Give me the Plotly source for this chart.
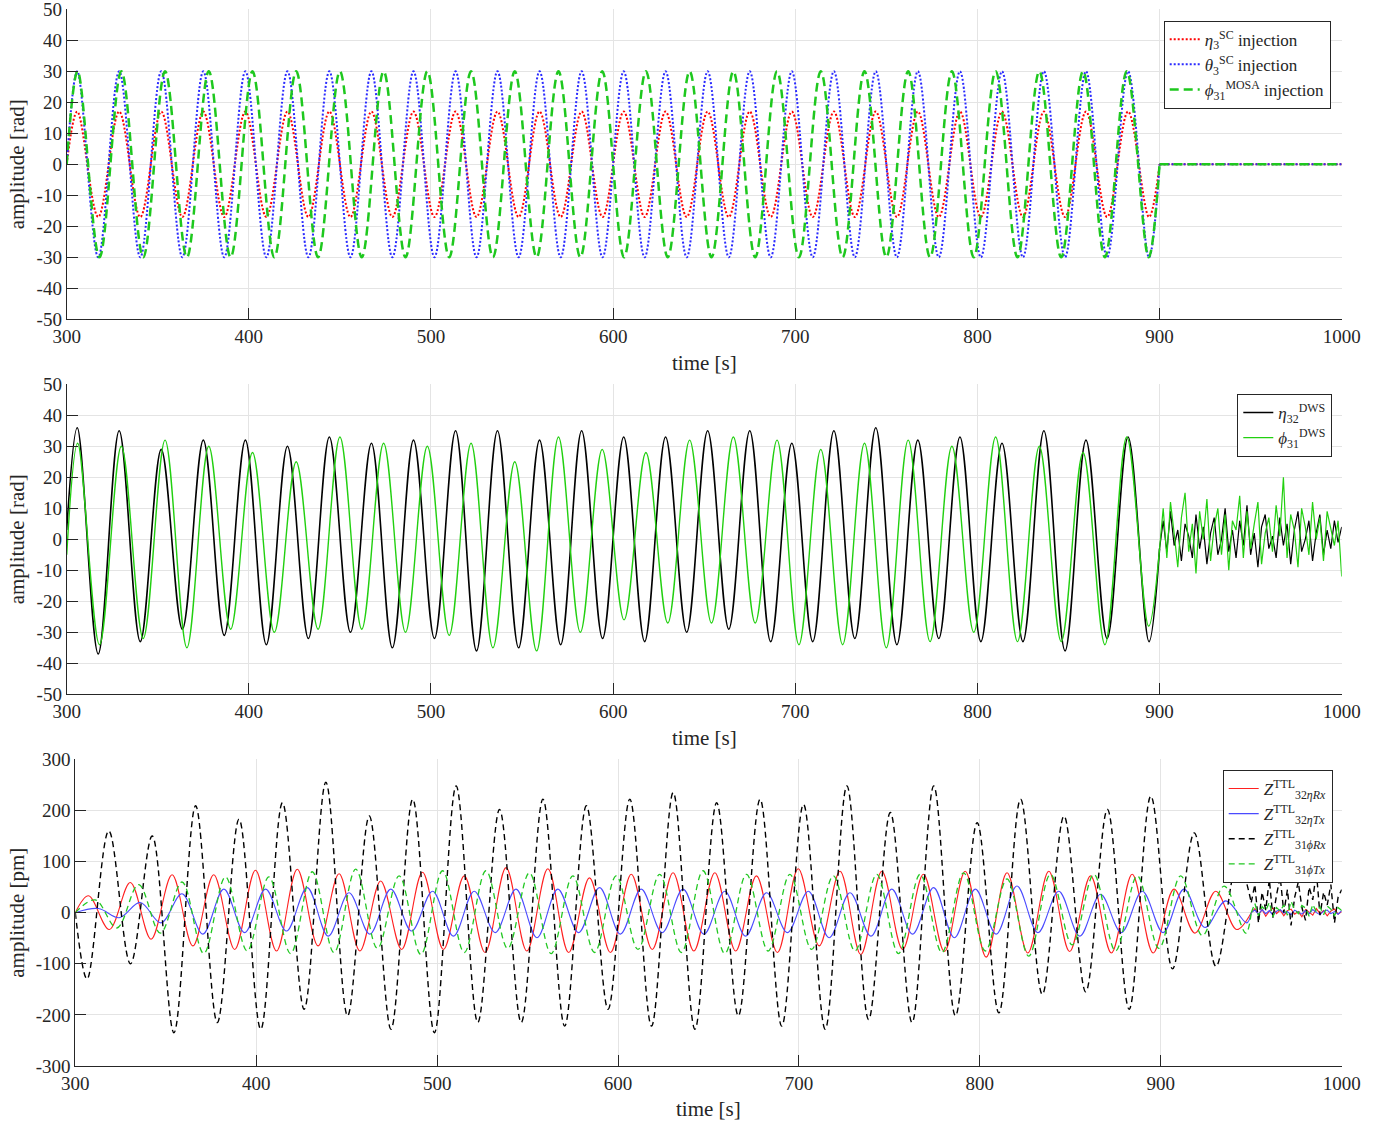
import plotly.graph_objects as go

# ---------------- Panel 1 : injections ----------------
t_eta = [300.0, 305.8, 317.3, 328.8, 340.4, 351.9, 363.5, 375.0, 386.5, 398.1,
         409.6, 421.2, 432.7, 444.2, 455.8, 467.3, 478.8, 490.4, 501.9, 513.5,
         525.0, 536.5, 548.1, 559.6, 571.2, 582.7, 594.2, 605.8, 617.3, 628.8,
         640.4, 651.9, 663.5, 675.0, 686.5, 698.1, 709.6, 721.2, 732.7, 744.2,
         755.8, 767.3, 778.8, 790.4, 801.9, 813.5, 825.0, 836.5, 848.1, 859.6,
         871.2, 882.7, 894.2, 900.0]
eta3_sc = [0,
           17, -17, 17, -17, 17, -17, 17, -17, 17, -17,
           17, -17, 17, -17, 17, -17, 17, -17, 17, -17,
           17, -17, 17, -17, 17, -17, 17, -17, 17, -17,
           17, -17, 17, -17, 17, -17, 17, -17, 17, -17,
           17, -17, 17, -17, 17, -17, 17, -17, 17, -17,
           17, -17,
           0]
theta3_sc = [0,
             30, -30, 30, -30, 30, -30, 30, -30, 30, -30,
             30, -30, 30, -30, 30, -30, 30, -30, 30, -30,
             30, -30, 30, -30, 30, -30, 30, -30, 30, -30,
             30, -30, 30, -30, 30, -30, 30, -30, 30, -30,
             30, -30, 30, -30, 30, -30, 30, -30, 30, -30,
             30, -30,
             0]
t_phi = [300, 306, 318, 330, 342, 354, 366, 378, 390, 402,
         414, 426, 438, 450, 462, 474, 486, 498, 510, 522,
         534, 546, 558, 570, 582, 594, 606, 618, 630, 642,
         654, 666, 678, 690, 702, 714, 726, 738, 750, 762,
         774, 786, 798, 810, 822, 834, 846, 858, 870, 882,
         894, 900]
phi31_mosa = [0,
              30, -30, 30, -30, 30, -30, 30, -30, 30, -30,
              30, -30, 30, -30, 30, -30, 30, -30, 30, -30,
              30, -30, 30, -30, 30, -30, 30, -30, 30, -30,
              30, -30, 30, -30, 30, -30, 30, -30, 30, -30,
              30, -30, 30, -30, 30, -30, 30, -30, 30, -30,
              0]
t_off = [900, 1000]
off_val = [0, 0]

# ---------------- Panel 2 : DWS ----------------
eta32_dws = [3,
             36, -37, 35, -33, 29, -29, 32, -31, 32, -34,
             30, -32, 33, -30, 31, -35, 32, -32, 35, -36,
             35, -35, 32, -34, 35, -32, 33, -33, 33, -30,
             35, -29, 35, -33, 31, -33, 35, -32, 36, -34,
             32, -32, 33, -33, 31, -33, 35, -36, 32, -32,
             33, -33,
             -3]
phi31_dws = [-5,
             31, -34, 30, -32, 32, -35, 30, -29, 28, -30,
             25, -29, 33, -29, 31, -30, 30, -31, 31, -35,
             25, -36, 33, -30, 29, -26, 28, -27, 32, -27,
             33, -27, 32, -34, 29, -34, 31, -35, 32, -33,
             30, -30, 33, -33, 30, -33, 28, -34, 33, -28,
             -3]
t_noise2 = [900, 902, 904, 906, 908, 910, 912, 914, 916, 918,
            920, 922, 924, 926, 928, 930, 932, 934, 936, 938,
            940, 942, 944, 946, 948, 950, 952, 954, 956, 958,
            960, 962, 964, 966, 968, 970, 972, 974, 976, 978,
            980, 982, 984, 986, 988, 990, 992, 994, 996, 998,
            1000]
eta32_noise = [-3, 6, -4, 9, -2, 3, -7, 5, 1, -6,
               8, -3, 4, -8, 2, 7, -5, 0, 10, -4,
               3, -6, 6, -2, 11, -5, 2, -9, 4, 8,
               -3, 1, -6, 7, -2, 5, -8, 3, 9, -4,
               0, 6, -7, 2, 8, -5, 3, -3, 6, -1,
               4]
phi31_noise = [-3, 10, -6, 12, 2, -9, 7, 15, -4, 5,
               -11, 9, 0, 13, -7, 4, 10, -5, 8, -10,
               6, 3, 14, -6, 9, -3, 5, 12, -8, 2,
               7, -4, 11, 1, 20, -6, 8, 3, -9, 10,
               4, -5, 12, 0, 7, -7, 9, 3, -2, 6,
               -12]

# ---------------- Panel 3 : TTL ----------------
t_z32rx = [300.0,
           307.3, 318.8, 330.4, 341.9, 353.5, 365.0, 376.5, 388.1, 399.6, 411.2,
           422.7, 434.2, 445.8, 457.3, 468.8, 480.4, 491.9, 503.5, 515.0, 526.5,
           538.1, 549.6, 561.2, 572.7, 584.2, 595.8, 607.3, 618.9, 630.4, 641.9,
           653.5, 665.0, 676.5, 688.1, 699.6, 711.2, 722.7, 734.2, 745.8, 757.3,
           768.8, 780.4, 791.9, 803.5, 815.0, 826.5, 838.1, 849.6, 861.2, 872.7,
           884.2, 895.8, 907.3, 918.9, 930.4, 941.9,
           950.0]
z32rx = [0,
         33, -33, 59, -52, 74, -65, 74, -72, 83, -75,
         85, -65, 76, -75, 62, -72, 79, -72, 72, -78,
         88, -75, 86, -78, 68, -78, 75, -72, 78, -75,
         78, -75, 72, -78, 86, -65, 81, -82, 81, -72,
         75, -76, 81, -87, 78, -79, 81, -76, 72, -79,
         75, -79, 46, -40, 42, -33,
         0]
t_z32tx = [300.0,
           312.8, 324.3, 335.9, 347.4, 359.0, 370.5, 382.1, 393.6, 405.2, 416.7,
           428.2, 439.8, 451.3, 462.8, 474.4, 485.9, 497.5, 509.0, 520.5, 532.1,
           543.6, 555.2, 566.7, 578.2, 589.8, 601.3, 612.8, 624.4, 635.9, 647.5,
           659.0, 670.5, 682.1, 693.6, 705.2, 716.7, 728.2, 739.8, 751.3, 762.8,
           774.4, 785.9, 797.5, 809.0, 820.5, 832.1, 843.6, 855.2, 866.7, 878.2,
           889.8, 901.3, 912.8, 924.4, 935.9, 947.5,
           950.0]
z32tx = [0,
         8, -10, 20, -20, 37, -42, 46, -39, 46, -36,
         49, -46, 39, -42, 46, -36, 42, -46, 42, -39,
         46, -49, 46, -39, 49, -42, 46, -39, 46, -42,
         42, -46, 39, -39, 42, -49, 39, -46, 46, -42,
         49, -49, 46, -42, 52, -39, 42, -46, 36, -39,
         42, -39, 46, -29, 23, -20,
         0]
t_z31rx = [300.0,
           306.5, 318.5, 330.5, 342.5, 354.5, 366.5, 378.5, 390.5, 402.5, 414.5,
           426.5, 438.5, 450.5, 462.5, 474.5, 486.5, 498.5, 510.5, 522.5, 534.5,
           546.5, 558.5, 570.5, 582.5, 594.5, 606.5, 618.5, 630.5, 642.5, 654.5,
           666.5, 678.5, 690.5, 702.5, 714.5, 726.5, 738.5, 750.5, 762.5, 774.5,
           786.5, 798.5, 810.5, 822.5, 834.5, 846.5, 858.5, 870.5, 882.5, 894.5,
           906.5, 918.5, 930.5, 942.5,
           950.0]
z31rx = [0,
         -130, 160, -100, 150, -235, 209, -215, 183, -228, 215,
         -189, 255, -202, 189, -228, 222, -235, 248, -215, 202,
         -215, 222, -222, 209, -189, 222, -222, 235, -228, 215,
         -202, 222, -222, 212, -228, 248, -209, 196, -215, 248,
         -202, 176, -196, 222, -160, 189, -155, 202, -189, 228,
         -110, 156, -105, 100,
         20]
t_z31tx = [300.0,
           311, 323, 335, 347, 359, 371, 383, 395, 407, 419,
           431, 443, 455, 467, 479, 491, 503, 515, 527, 539,
           551, 563, 575, 587, 599, 611, 623, 635, 647, 659,
           671, 683, 695, 707, 719, 731, 743, 755, 767, 779,
           791, 803, 815, 827, 839, 851, 863, 875, 887, 899,
           911, 923, 935, 947,
           950.0]
z31tx = [0,
         25, -30, 55, -40, 60, -80, 70, -75, 70, -80,
         80, -78, 85, -70, 72, -82, 82, -78, 82, -70,
         78, -80, 72, -78, 72, -72, 75, -78, 82, -80,
         75, -75, 75, -72, 72, -75, 75, -80, 75, -78,
         78, -75, 66, -85, 75, -63, 75, -75, 72, -70,
         72, -45, 52, -40,
         0]
t_noise3 = [950, 952, 954, 956, 958, 960, 962, 964, 966, 968,
            970, 972, 974, 976, 978, 980, 982, 984, 986, 988,
            990, 992, 994, 996, 998, 1000]
z32rx_noise = [0, 8, -4, 6, -7, 3, 9, -2, 5, -6, 4, 7, -3, 2, -8, 6, 1, -5, 8, -2, 4, -6, 3, 7, -3, 2]
z32tx_noise = [0, 5, -3, 6, -2, 4, -5, 3, 6, -1, 2, -4, 5, 1, -3, 4, -2, 6, 0, -4, 3, 5, -2, 2, -3, 4]
z31rx_noise = [20, 55, -20, 40, 5, 65, -10, 35, 70, 0, 45, -25, 30, 60, 10, -15, 50, 25, 80, -5, 40, 15, 55, -20, 30, 45]
z31tx_noise = [0, 18, -6, 12, 4, 20, -8, 10, 3, 15, -5, 22, 6, -2, 14, 9, -7, 16, 2, 11, -4, 13, 7, -6, 10, 4]

x_ticks = [300, 400, 500, 600, 700, 800, 900, 1000]
x_ticktext = ['300', '400', '500', '600', '700', '800', '900', '1000']
y_ticks_rad = [-50, -40, -30, -20, -10, 0, 10, 20, 30, 40, 50]
y_ticktext_rad = ['-50', '-40', '-30', '-20', '-10', '0', '10', '20', '30', '40', '50']
y_ticks_pm = [-300, -200, -100, 0, 100, 200, 300]
y_ticktext_pm = ['-300', '-200', '-100', '0', '100', '200', '300']

FONT = 'Liberation Serif'
AXC = '#262626'
W, H = 1399, 1127

fig = go.Figure()


def add(x, y, name, color, width, dash, xa, ya, legend, shape='spline', showlegend=True, group=None):
    fig.add_trace(go.Scatter(
        x=x, y=y, name=name, mode='lines',
        line=dict(color=color, width=width, dash=dash, shape=shape),
        xaxis=xa, yaxis=ya, legend=legend, showlegend=showlegend,
        legendgroup=group or name, hoverinfo='skip'))


# Panel 1
add(t_eta, eta3_sc, '<i>η</i><sub>3</sub><sup>SC</sup> injection', '#ff0000', 2, '2px,2px', 'x', 'y', 'legend', group='a')
add(t_eta, theta3_sc, '<i>θ</i><sub>3</sub><sup>SC</sup> injection', '#2a2aff', 2, '2px,2px', 'x', 'y', 'legend', group='b')
add(t_phi, phi31_mosa, '<i>ϕ</i><sub>31</sub><sup>MOSA</sup> injection', '#1ec81e', 2.5, '9px,5px', 'x', 'y', 'legend', group='c')
add(t_off, off_val, 'a0', '#ff0000', 2, '2px,2px', 'x', 'y', 'legend', 'linear', False, 'a')
add(t_off, off_val, 'b0', '#2a2aff', 2, '2px,2px', 'x', 'y', 'legend', 'linear', False, 'b')
add(t_off, off_val, 'c0', '#1ec81e', 2.5, '9px,5px', 'x', 'y', 'legend', 'linear', False, 'c')

# Panel 2
add(t_eta[:-1] + [900.0], eta32_dws, '<i>η</i><sub>32</sub><sup>DWS</sup>', '#000000', 1.6, 'solid', 'x2', 'y2', 'legend2', group='d')
add(t_phi, phi31_dws, '<i>ϕ</i><sub>31</sub><sup>DWS</sup>', '#22d010', 1.4, 'solid', 'x2', 'y2', 'legend2', group='e')
add(t_noise2, eta32_noise, 'd0', '#000000', 1.2, 'solid', 'x2', 'y2', 'legend2', 'linear', False, 'd')
add(t_noise2, phi31_noise, 'e0', '#22d010', 1.2, 'solid', 'x2', 'y2', 'legend2', 'linear', False, 'e')

# Panel 3
add(t_z32rx, z32rx, '<i>Z</i><sup>TTL</sup><sub>32<i>ηRx</i></sub>', '#ff2020', 1.1, 'solid', 'x3', 'y3', 'legend3', group='f')
add(t_z32tx, z32tx, '<i>Z</i><sup>TTL</sup><sub>32<i>ηTx</i></sub>', '#4a4aff', 1.1, 'solid', 'x3', 'y3', 'legend3', group='g')
add(t_z31rx, z31rx, '<i>Z</i><sup>TTL</sup><sub>31<i>ϕRx</i></sub>', '#000000', 1.4, '6px,4px', 'x3', 'y3', 'legend3', group='h')
add(t_z31tx, z31tx, '<i>Z</i><sup>TTL</sup><sub>31<i>ϕTx</i></sub>', '#22c822', 1.3, '6px,4px', 'x3', 'y3', 'legend3', group='i')
add(t_noise3, z32rx_noise, 'f0', '#ff2020', 1.1, 'solid', 'x3', 'y3', 'legend3', 'linear', False, 'f')
add(t_noise3, z32tx_noise, 'g0', '#4a4aff', 1.1, 'solid', 'x3', 'y3', 'legend3', 'linear', False, 'g')
add(t_noise3, z31rx_noise, 'h0', '#000000', 1.4, '6px,4px', 'x3', 'y3', 'legend3', 'linear', False, 'h')
add(t_noise3, z31tx_noise, 'i0', '#22c822', 1.3, '6px,4px', 'x3', 'y3', 'legend3', 'linear', False, 'i')


def px_x(p):
    return p / W


def px_y(p):
    return 1 - p / H


common = dict(showline=True, linecolor=AXC, linewidth=1, mirror=False, automargin=False,
              ticks='inside', ticklen=11, tickcolor=AXC, tickwidth=1,
              ticklabeloverflow='allow',
              showgrid=True, gridcolor='#e4e4e4', gridwidth=1, zeroline=False,
              tickfont=dict(family=FONT, size=19, color=AXC))

xd12 = [px_x(66.7), px_x(1341.7)]
xd3 = [px_x(75.3), px_x(1341.7)]
yd1 = [px_y(319.3), px_y(9.3)]
yd2 = [px_y(694.3), px_y(384.3)]
yd3 = [px_y(1066.0), px_y(759.3)]

xcommon = dict(common, range=[300, 1000], tickvals=x_ticks, ticktext=x_ticktext)
fig.update_layout(
    width=W, height=H,
    margin=dict(l=0, r=0, t=0, b=0, autoexpand=False),
    paper_bgcolor='white', plot_bgcolor='white',
    font=dict(family=FONT, color=AXC),
    xaxis=dict(xcommon, domain=xd12, anchor='y'),
    yaxis=dict(common, domain=yd1, anchor='x', range=[-50, 50], tickvals=y_ticks_rad, ticktext=y_ticktext_rad),
    xaxis2=dict(xcommon, domain=xd12, anchor='y2'),
    yaxis2=dict(common, domain=yd2, anchor='x2', range=[-50, 50], tickvals=y_ticks_rad, ticktext=y_ticktext_rad),
    xaxis3=dict(xcommon, domain=xd3, anchor='y3'),
    yaxis3=dict(common, domain=yd3, anchor='x3', range=[-300, 300], tickvals=y_ticks_pm, ticktext=y_ticktext_pm),
    showlegend=True,
)

leg_common = dict(xanchor='right', yanchor='top', bgcolor='white', bordercolor=AXC, borderwidth=1,
                  itemwidth=30, tracegroupgap=0)
fig.update_layout(
    legend=dict(leg_common, x=px_x(1330.7), y=px_y(20.7), font=dict(family=FONT, size=17, color=AXC)),
    legend2=dict(leg_common, x=px_x(1332.3), y=px_y(394), font=dict(family=FONT, size=17, color=AXC)),
    legend3=dict(leg_common, x=px_x(1332.7), y=px_y(770), font=dict(family=FONT, size=17, color=AXC)),
)

ann = []
for (xc, yc) in [(704, 363), (704, 738), (708.5, 1109)]:
    ann.append(dict(text='time [s]', x=px_x(xc), y=px_y(yc), xref='paper', yref='paper',
                    showarrow=False, xanchor='center', yanchor='middle',
                    font=dict(family=FONT, size=21, color=AXC)))
for (txt, yc) in [('amplitude [rad]', 164.3), ('amplitude [rad]', 539.3), ('amplitude [pm]', 912.7)]:
    ann.append(dict(text=txt, x=px_x(17), y=px_y(yc), xref='paper', yref='paper', textangle=-90,
                    showarrow=False, xanchor='center', yanchor='middle',
                    font=dict(family=FONT, size=21, color=AXC)))
fig.update_layout(annotations=ann)

fig.write_html('out.html')
